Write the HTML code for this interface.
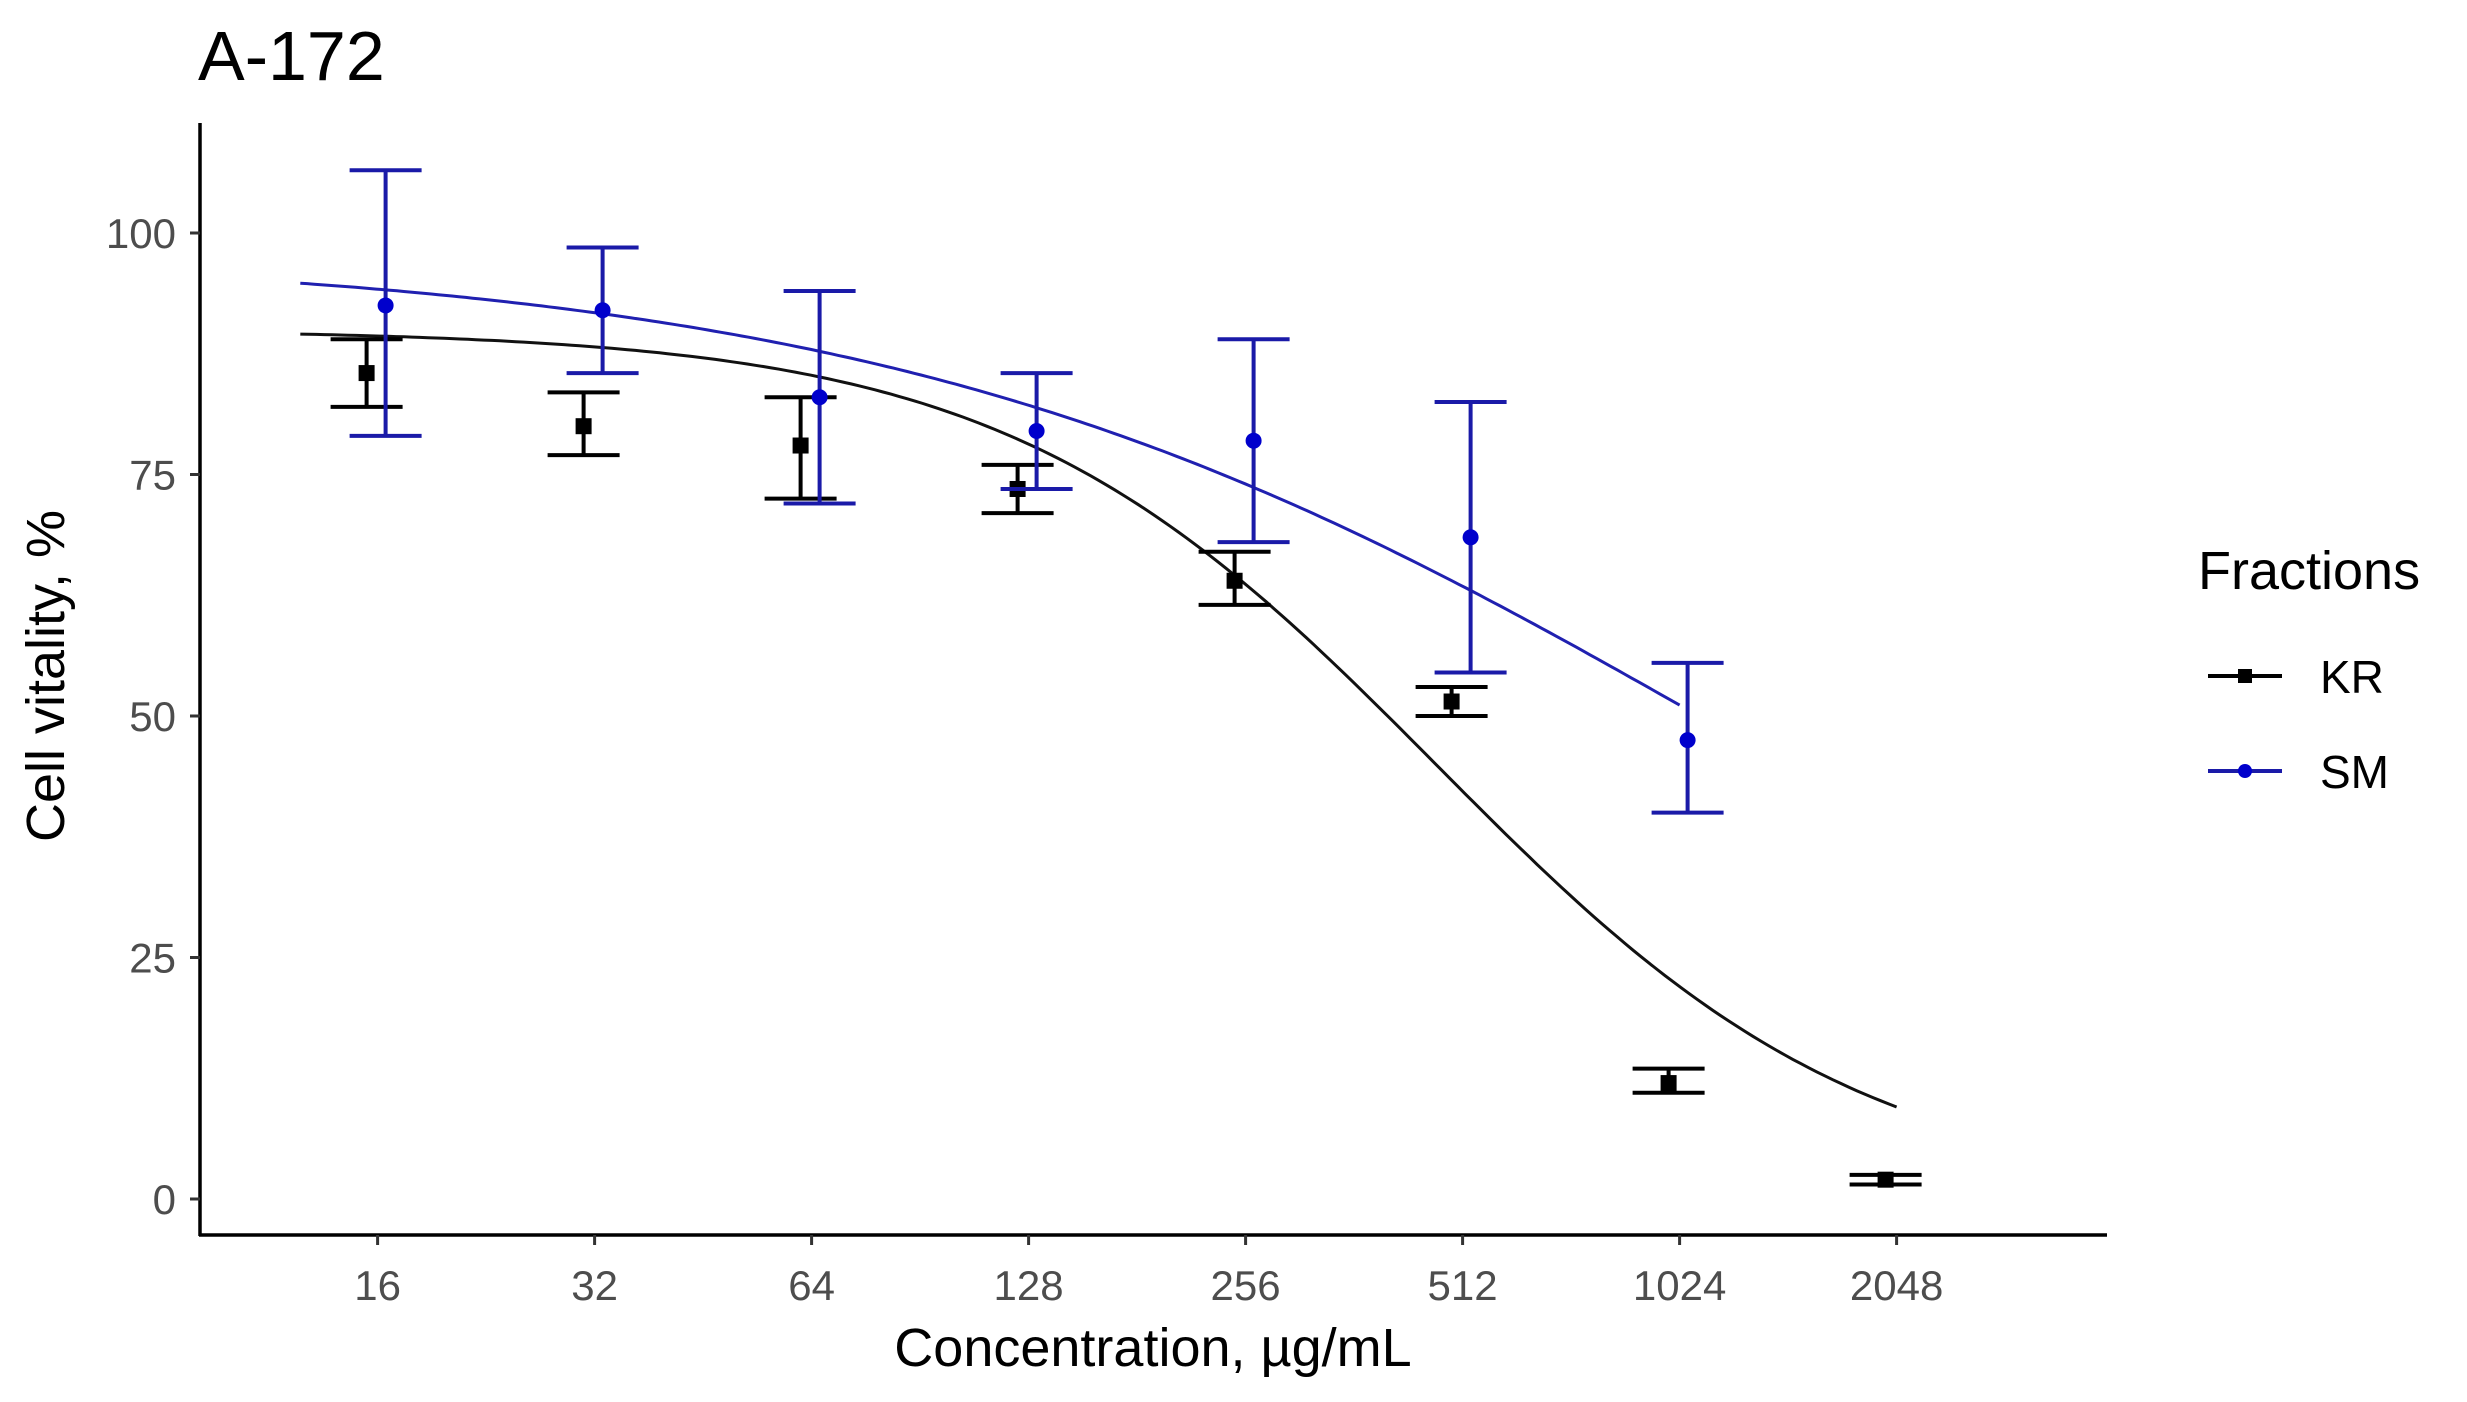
<!DOCTYPE html>
<html><head><meta charset="utf-8"><style>
html,body{margin:0;padding:0;background:#fff;}
svg{display:block;font-family:"Liberation Sans",Arial,sans-serif;}
</style></head><body>
<svg id="chart" width="2467" height="1402" viewBox="0 0 2467 1402">
<text x="198" y="80" font-size="70" fill="#000">A-172</text>
<g id="axes"></g>
<g id="curves"></g>
<g id="marks"></g>
<text x="1153" y="1366" font-size="54" text-anchor="middle" fill="#000">Concentration, µg/mL</text>
<text transform="translate(64,676) rotate(-90)" font-size="54" text-anchor="middle" fill="#000">Cell vitality, %</text>
<g>
<text x="2198" y="589" font-size="54" fill="#000">Fractions</text>
<g>
<line x1="2208" y1="676" x2="2282" y2="676" stroke="#000" stroke-width="4"/>
<rect x="2238" y="669" width="14" height="14" fill="#000"/>
<text x="2320" y="693" font-size="46" fill="#000">KR</text>
</g>
<g>
<line x1="2208" y1="771" x2="2282" y2="771" stroke="#1a1aa8" stroke-width="4"/>
<circle cx="2245" cy="771" r="7" fill="#0000cc"/>
<text x="2320" y="788" font-size="46" fill="#000">SM</text>
</g>
</g>
</svg>
<script>
const concentrations = [16, 32, 64, 128, 256, 512, 1024, 2048];
const yTicks = [0, 25, 50, 75, 100];
const krMean = [85.5, 80, 78, 73.5, 64, 51.5, 12, 2];
const krLow  = [82, 77, 72.5, 71, 61.5, 50, 11, 1.5];
const krHigh = [89, 83.5, 83, 76, 67, 53, 13.5, 2.5];
const smConc = [16, 32, 64, 128, 256, 512, 1024];
const smMean = [92.5, 92, 83, 79.5, 78.5, 68.5, 47.5];
const smLow  = [79, 85.5, 72, 73.5, 68, 54.5, 40];
const smHigh = [106.5, 98.5, 94, 85.5, 89, 82.5, 55.5];
const krFit = {top: 90, bottom: 0, ec50: 470, hill: 1.45};
const smFit = {top: 98, bottom: 0, ec50: 1150, hill: 0.75};

const NS = "http://www.w3.org/2000/svg";
const x = c => 377.6 + Math.log2(c / 16) * 217;
const y = v => 1199 - v * 9.66;
function mk(tag, attrs, parent) {
  const e = document.createElementNS(NS, tag);
  for (const k in attrs) e.setAttribute(k, attrs[k]);
  parent.appendChild(e);
  return e;
}
const axes = document.getElementById('axes');
let e;
e = mk('line', {x1: 200, y1: 123, x2: 200, y2: 1236, stroke: '#000', 'stroke-width': 3.5}, axes);


e = mk('line', {x1: 199, y1: 1235, x2: 2107, y2: 1235, stroke: '#000', 'stroke-width': 3.5}, axes);


yTicks.forEach(v => {
  mk('line', {x1: 190, y1: y(v), x2: 200, y2: y(v), stroke: '#333', 'stroke-width': 3}, axes);
  const t = mk('text', {x: 176, y: y(v) + 15, 'font-size': 42, 'text-anchor': 'end', fill: '#4d4d4d'}, axes);
  t.textContent = v;
  
  
});
concentrations.forEach(c => {
  mk('line', {x1: x(c), y1: 1235, x2: x(c), y2: 1245, stroke: '#333', 'stroke-width': 3}, axes);
  const t = mk('text', {x: x(c), y: 1300, 'font-size': 42, 'text-anchor': 'middle', fill: '#4d4d4d'}, axes);
  t.textContent = c;
  
  
});
const curves = document.getElementById('curves');
function logistic(p, c) { return p.bottom + (p.top - p.bottom) / (1 + Math.pow(c / p.ec50, p.hill)); }
function curve(p, c0, c1, color, name) {
  let d = '';
  for (let i = 0; i <= 200; i++) {
    const c = c0 * Math.pow(c1 / c0, i / 200);
    d += (i ? 'L' : 'M') + x(c).toFixed(1) + ',' + y(logistic(p, c)).toFixed(1);
  }
  const el = mk('path', {d: d, fill: 'none', stroke: color, 'stroke-width': 3}, curves);
  
  
}
curve(krFit, 12.5, 2048, '#111', 'kr-fit-curve');
curve(smFit, 12.5, 1024, '#2020b0', 'sm-fit-curve');
const marks = document.getElementById('marks');
function errbar(cx, lo, hi, color, w, name) {
  const g = mk('g', {stroke: color, 'stroke-width': 4}, marks);
  
  
  mk('line', {x1: cx, y1: y(lo), x2: cx, y2: y(hi)}, g);
  mk('line', {x1: cx - w, y1: y(lo), x2: cx + w, y2: y(lo)}, g);
  mk('line', {x1: cx - w, y1: y(hi), x2: cx + w, y2: y(hi)}, g);
}
concentrations.forEach((c, i) => {
  const cx = x(c) - 11;
  errbar(cx, krLow[i], krHigh[i], '#000', 36, 'kr-error-bar');
  const r = mk('rect', {x: cx - 8, y: y(krMean[i]) - 8, width: 16, height: 16, fill: '#000'}, marks);
  
  
});
smConc.forEach((c, i) => {
  const cx = x(c) + 8;
  errbar(cx, smLow[i], smHigh[i], '#1a1aa8', 36, 'sm-error-bar');
  const p = mk('circle', {cx: cx, cy: y(smMean[i]), r: 8, fill: '#0000cc'}, marks);
  
  
});
</script>
</body></html>
